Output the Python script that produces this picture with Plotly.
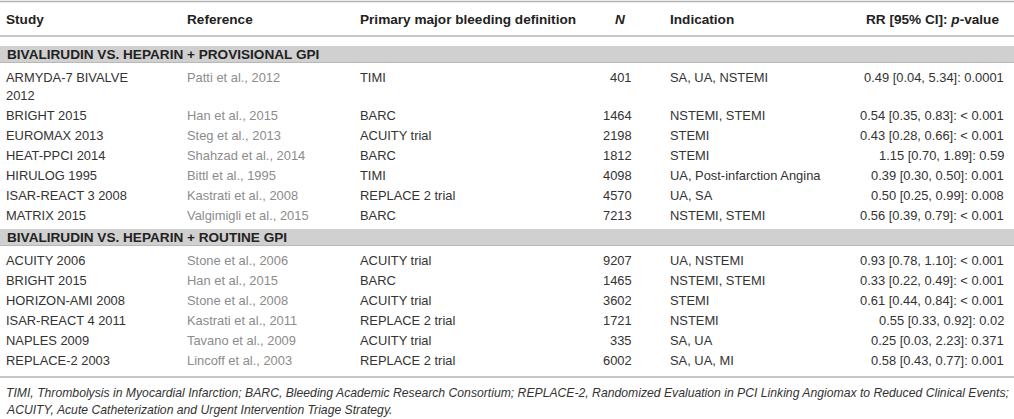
import textwrap
import plotly.graph_objects as go

# table content
group_titles = ["BIVALIRUDIN VS. HEPARIN + PROVISIONAL GPI",
                "BIVALIRUDIN VS. HEPARIN + ROUTINE GPI"]
group_sizes = [7, 6]

studies = ["ARMYDA-7 BIVALVE 2012", "BRIGHT 2015", "EUROMAX 2013", "HEAT-PPCI 2014",
           "HIRULOG 1995", "ISAR-REACT 3 2008", "MATRIX 2015",
           "ACUITY 2006", "BRIGHT 2015", "HORIZON-AMI 2008", "ISAR-REACT 4 2011",
           "NAPLES 2009", "REPLACE-2 2003"]
references = ["Patti et al., 2012", "Han et al., 2015", "Steg et al., 2013", "Shahzad et al., 2014",
              "Bittl et al., 1995", "Kastrati et al., 2008", "Valgimigli et al., 2015",
              "Stone et al., 2006", "Han et al., 2015", "Stone et al., 2008", "Kastrati et al., 2011",
              "Tavano et al., 2009", "Lincoff et al., 2003"]
definitions = ["TIMI", "BARC", "ACUITY trial", "BARC", "TIMI", "REPLACE 2 trial", "BARC",
               "ACUITY trial", "BARC", "ACUITY trial", "REPLACE 2 trial", "ACUITY trial",
               "REPLACE 2 trial"]
n_values = [401, 1464, 2198, 1812, 4098, 4570, 7213,
            9207, 1465, 3602, 1721, 335, 6002]
indications = ["SA, UA, NSTEMI", "NSTEMI, STEMI", "STEMI", "STEMI", "UA, Post-infarction Angina",
               "UA, SA", "NSTEMI, STEMI",
               "UA, NSTEMI", "NSTEMI, STEMI", "STEMI", "NSTEMI", "SA, UA", "SA, UA, MI"]
rr_values = ["0.49 [0.04, 5.34]: 0.0001", "0.54 [0.35, 0.83]: < 0.001", "0.43 [0.28, 0.66]: < 0.001",
             "1.15 [0.70, 1.89]: 0.59", "0.39 [0.30, 0.50]: 0.001", "0.50 [0.25, 0.99]: 0.008",
             "0.56 [0.39, 0.79]: < 0.001",
             "0.93 [0.78, 1.10]: < 0.001", "0.33 [0.22, 0.49]: < 0.001", "0.61 [0.44, 0.84]: < 0.001",
             "0.55 [0.33, 0.92]: 0.02", "0.25 [0.03, 2.23]: 0.371", "0.58 [0.43, 0.77]: 0.001"]
headers = ["Study", "Reference", "Primary major bleeding definition", "<i>N</i>",
           "Indication", "RR [95% CI]: <i>p</i>-value"]
footnote = ["TIMI, Thrombolysis in Myocardial Infarction; BARC, Bleeding Academic Research Consortium; "
            "REPLACE-2, Randomized Evaluation in PCI Linking Angiomax to Reduced Clinical Events;",
            "ACUITY, Acute Catheterization and Urgent Intervention Triage Strategy."]

W, H = 1014, 419
FONT = "Liberation Sans, Arial, sans-serif"
TXT = "#333333"
REFC = "#8c8c8c"
FS = 12.9
FSB = 13.6

col_x = [4, 185, 358, 634, 668, 1006]
col_anchor = ["left", "left", "left", "right", "left", "right"]
head_x = [4, 185, 358, 628, 668, 1001]

annotations = []
shapes = []


def txt(x, y, s, anchor="left", color=TXT, size=FS):
    annotations.append(dict(x=x, y=y, xref="x", yref="y", text=s, showarrow=False,
                            xanchor=anchor, yanchor="middle",
                            font=dict(family=FONT, size=size, color=color)))


def hline(y, color="#b4b4b4", width=1.5):
    shapes.append(dict(type="line", xref="x", yref="y", x0=0, x1=W, y0=y, y1=y,
                       line=dict(color=color, width=width)))


# header
hline(1.5)
for hx, h, a in zip(head_x, headers, col_anchor):
    txt(hx, 19, "<b>" + h + "</b>", a, color="#222222", size=FSB)
hline(36)

y = 46
i = 0
for g, (title, size) in enumerate(zip(group_titles, group_sizes)):
    shapes.append(dict(type="rect", xref="x", yref="y", x0=0, x1=W, y0=y, y1=y + 16.5,
                       fillcolor="#d0d0d0", line=dict(width=0), layer="below"))
    hline(y + 16.5, color="#b8b8b8", width=1.2)
    txt(5, y + 8.5, "<b>" + title + "</b>", color="#222222", size=FSB)
    yc = y + 16.5 + 14.5
    for k in range(size):
        lines = textwrap.wrap(studies[i], 18)
        for j, ln in enumerate(lines):
            txt(col_x[0], yc + 18 * j, ln)
        txt(col_x[1], yc, references[i], color=REFC)
        txt(col_x[2], yc, definitions[i])
        txt(col_x[3], yc, str(n_values[i]), "right")
        txt(col_x[4], yc, indications[i])
        txt(col_x[5], yc, rr_values[i], "right")
        yc += 18 * (len(lines) - 1) + 20
        i += 1
    y = yc - 20 + 14

hline(yc - 20 + 17)
txt(4, yc - 20 + 33, "<i>" + footnote[0] + "</i>", size=12.2)
txt(4, yc - 20 + 50, "<i>" + footnote[1] + "</i>", size=12.2)

fig = go.Figure()
fig.update_layout(
    width=W, height=H, margin=dict(l=0, r=0, t=0, b=0),
    paper_bgcolor="white", plot_bgcolor="white",
    xaxis=dict(range=[0, W], visible=False, fixedrange=True),
    yaxis=dict(range=[H, 0], visible=False, fixedrange=True),
    annotations=annotations, shapes=shapes, showlegend=False,
)
fig.write_html("out.html", config={"displayModeBar": False},
               post_script="document.body.style.margin='0';")
